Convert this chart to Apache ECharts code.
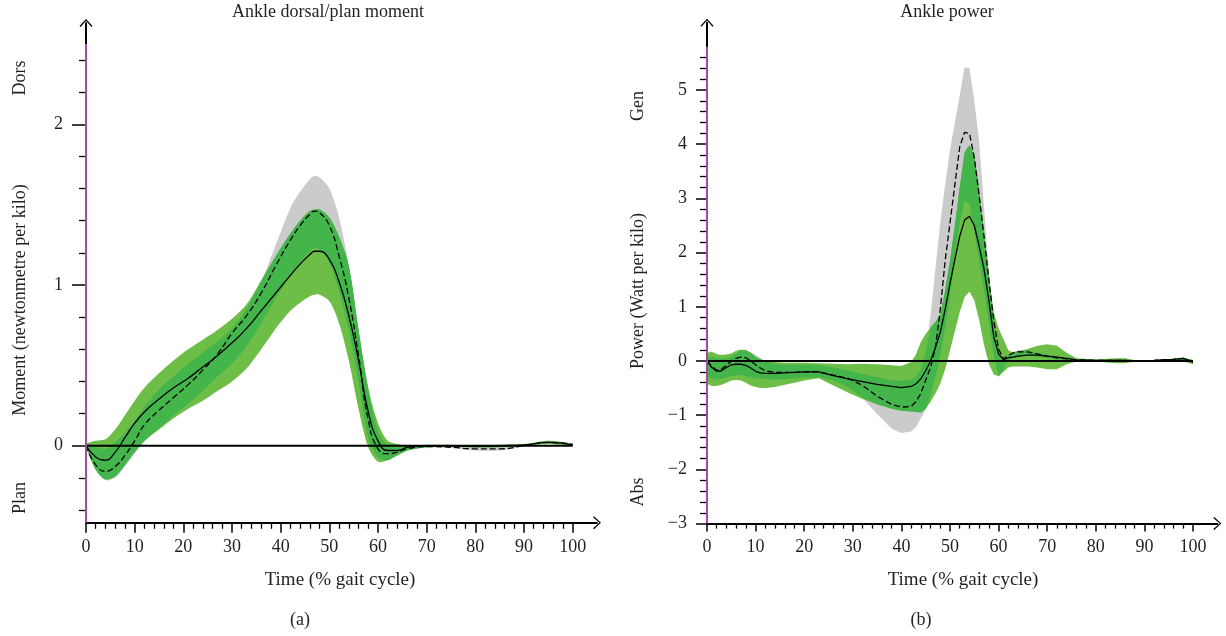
<!DOCTYPE html>
<html>
<head>
<meta charset="utf-8">
<script src="https://cdn.jsdelivr.net/npm/echarts@6/dist/echarts.min.js"></script>
<style>html,body{margin:0;padding:0;background:#fff}#c{width:1226px;height:636px}</style>
</head>
<body>
<div id="c"></div>
<script>
// ---------- (a) Ankle dorsal/plan moment ----------
const momentTime   = [0,2,4,6,8,10,12,15,18,21,24,27,30,33,36,39,42,44,46,47,48,50,52,54,56,58,60,62,64,66,70,75,80,85,90,95,100];
const momentSolid  = [0,-0.07,-0.09,-0.04,0.05,0.14,0.21,0.29,0.36,0.42,0.49,0.56,0.64,0.73,0.84,0.95,1.06,1.13,1.19,1.21,1.21,1.16,1.02,0.81,0.53,0.21,0.03,-0.03,-0.03,-0.01,0,0,-0.005,0,0.005,0.02,0.005];
const momentDashed = [0,-0.12,-0.16,-0.13,-0.06,0.03,0.13,0.22,0.30,0.38,0.47,0.57,0.70,0.81,0.95,1.12,1.28,1.37,1.44,1.46,1.45,1.37,1.18,0.92,0.56,0.16,-0.02,-0.05,-0.04,-0.02,-0.005,-0.01,-0.02,-0.02,0,0.02,0.01];
const momentGreyHi = [0,-0.01,-0.02,0.02,0.08,0.15,0.24,0.35,0.43,0.51,0.58,0.65,0.73,0.85,1.02,1.25,1.48,1.58,1.66,1.68,1.67,1.60,1.42,1.12,0.72,0.35,0.09,0,-0.01,-0.01,0,0,-0.005,-0.005,0.005,0.025,0.01];
const momentGreyLo = [0,-0.15,-0.215,-0.20,-0.13,-0.05,0.025,0.11,0.19,0.26,0.34,0.43,0.51,0.62,0.76,0.92,1.06,1.14,1.21,1.23,1.22,1.14,0.96,0.72,0.40,0.05,-0.07,-0.09,-0.06,-0.03,-0.01,-0.015,-0.03,-0.03,-0.005,0.015,0.01];
const momentGreenHi = [0.01,0.03,0.04,0.10,0.19,0.28,0.36,0.45,0.53,0.60,0.66,0.72,0.79,0.88,1.03,1.18,1.32,1.40,1.46,1.47,1.47,1.42,1.30,1.12,0.72,0.36,0.14,0.03,0.01,0,0.005,0.005,0,0.005,0.01,0.03,0.01];
const momentGreenLo = [-0.01,-0.15,-0.21,-0.19,-0.12,-0.04,0.03,0.10,0.17,0.23,0.28,0.34,0.40,0.48,0.60,0.73,0.84,0.89,0.93,0.94,0.94,0.90,0.76,0.53,0.23,-0.01,-0.10,-0.09,-0.06,-0.03,-0.01,-0.005,-0.01,-0.01,0,0.01,0];
const momentYMajor = [0,1,2];
const momentYMinor = [-0.4,-0.2,0.2,0.4,0.6,0.8,1.2,1.4,1.6,1.8,2.2,2.4];

// ---------- (b) Ankle power ----------
const powerTime   = [0,1,2,3,4,5,6,7,8,9,10,11,12,14,16,18,20,23,26,29,32,35,38,40,42,43,44,45,46,47,48,49,50,51,52,53,54,55,56,57,58,59,60,61,62,63,64,66,68,70,72,74,76,80,84,86,88,92,96,98,100];
const powerSolid  = [0,-0.12,-0.19,-0.18,-0.12,-0.07,-0.06,-0.06,-0.08,-0.13,-0.19,-0.22,-0.23,-0.23,-0.22,-0.21,-0.20,-0.20,-0.27,-0.33,-0.38,-0.43,-0.47,-0.49,-0.47,-0.42,-0.33,-0.18,0,0.25,0.53,0.95,1.43,1.87,2.30,2.60,2.67,2.50,2.12,1.70,1.12,0.45,0.13,0.02,0.06,0.07,0.09,0.11,0.11,0.09,0.07,0.05,0.02,0.01,0.01,0.01,0,0.01,0.03,0.05,-0.02];
const powerDashed = [0,-0.10,-0.17,-0.15,-0.08,0,0.05,0.07,0.06,0,-0.07,-0.13,-0.18,-0.21,-0.21,-0.21,-0.20,-0.20,-0.26,-0.32,-0.45,-0.65,-0.80,-0.85,-0.84,-0.75,-0.60,-0.35,-0.12,0.25,0.95,1.85,2.55,3.25,3.95,4.22,4.20,3.75,3.05,2.30,1.50,0.75,0.22,0.04,0.10,0.15,0.17,0.17,0.13,0.09,0.06,0.04,0.02,0.01,0.01,0.01,0,0.01,0.03,0.05,-0.02];
const powerGreyHi = [0.05,0.08,0.05,0.04,0.05,0.08,0.14,0.20,0.20,0.16,0.11,0.06,0,-0.06,-0.07,-0.07,-0.07,-0.08,-0.12,-0.17,-0.24,-0.30,-0.36,-0.37,-0.34,-0.30,-0.15,0.15,0.85,1.70,2.55,3.25,3.90,4.40,4.90,5.42,5.40,4.80,4.05,2.85,1.65,0.75,0.15,0.05,0.10,0.17,0.20,0.20,0.15,0.12,0.08,0.05,0.03,0.02,0.02,0.02,0.02,0.02,0.04,0.06,0.02];
const powerGreyLo = [-0.30,-0.32,-0.34,-0.33,-0.30,-0.28,-0.26,-0.26,-0.28,-0.30,-0.32,-0.33,-0.33,-0.34,-0.33,-0.32,-0.31,-0.30,-0.36,-0.48,-0.68,-0.98,-1.25,-1.33,-1.30,-1.22,-1.05,-0.90,-0.65,-0.30,0.10,0.60,1.20,1.95,2.55,2.95,2.90,2.40,1.85,1.30,0.70,0.10,-0.30,-0.15,0.02,0.05,0.08,0.10,0.08,0.05,0.03,0.02,0.01,0,0,0,0,0,0.01,0.02,-0.02];
const powerGreenHi = [0.15,0.17,0.13,0.11,0.12,0.14,0.19,0.21,0.20,0.15,0.08,0.03,0,-0.02,-0.03,-0.03,-0.03,-0.04,-0.05,-0.06,-0.05,-0.06,-0.08,-0.09,-0.02,0.12,0.35,0.50,0.62,0.72,0.85,1.30,1.85,2.50,3.20,3.85,3.98,3.80,3.15,2.35,1.55,0.90,0.60,0.40,0.20,0.15,0.18,0.22,0.28,0.31,0.28,0.15,0.05,0.03,0.05,0.05,0.02,0.02,0.04,0.06,0.02];
const powerGreenLo = [-0.42,-0.46,-0.46,-0.44,-0.40,-0.36,-0.35,-0.36,-0.40,-0.45,-0.48,-0.50,-0.50,-0.48,-0.44,-0.40,-0.36,-0.32,-0.45,-0.58,-0.70,-0.80,-0.88,-0.92,-0.93,-0.94,-0.95,-0.88,-0.75,-0.60,-0.42,-0.15,0.20,0.55,0.90,1.18,1.28,1.12,0.75,0.30,-0.05,-0.25,-0.28,-0.20,-0.12,-0.10,-0.10,-0.10,-0.12,-0.15,-0.15,-0.06,-0.01,-0.01,-0.04,-0.04,-0.01,0,0,-0.01,-0.06];
const powerYMajor = [-3,-2,-1,0,1,2,3,4,5];
const powerYMinor = [-2.8,-2.6,-2.4,-2.2,-1.8,-1.6,-1.4,-1.2,-0.8,-0.6,-0.4,-0.2,0.2,0.4,0.6,0.8,1.2,1.4,1.6,1.8,2.2,2.4,2.6,2.8,3.2,3.4,3.6,3.8,4.2,4.4,4.6,4.8,5.2,5.4,5.6];

// ---------- shared ----------
const timeMajor = [0,10,20,30,40,50,60,70,80,90,100];
const timeMinor = [2,4,6,8,12,14,16,18,22,24,26,28,32,34,36,38,42,44,46,48,52,54,56,58,62,64,66,68,72,74,76,78,82,84,86,88,92,94,96,98];

const FONT = 'Liberation Serif';
const TXT = '#231f20';
const GREY = '#cbcbcb', LIGHT = '#6dbe46', DARK = '#43b54a', PURPLE = '#a04ca6';
const ARROW = 'path://M0,7 L6.5,0 L13,7 L12,8 L6.5,1.6 L1,8 Z';

function zip(t, v) { return t.map((x, i) => [x, v[i]]); }

// Filled band between lo and hi, drawn as one polygon through the axes' scales.
function band(xi, yi, t, lo, hi, color, smooth) {
  return {
    type: 'custom', xAxisIndex: xi, yAxisIndex: yi, data: [[t[0], lo[0]]], silent: true, z: 2, clip: false,
    renderItem: function (params, api) {
      const pts = [];
      for (let i = 0; i < t.length; i++) pts.push(api.coord([t[i], hi[i]]));
      for (let i = t.length - 1; i >= 0; i--) pts.push(api.coord([t[i], lo[i]]));
      return { type: 'polygon', shape: { points: pts, smooth: smooth }, style: { fill: color, stroke: null } };
    }
  };
}
function overlap(gLo, gHi, sLo, sHi) {
  const lo = gLo.map((v, i) => Math.max(v, sLo[i]));
  const hi = gHi.map((v, i) => Math.min(v, sHi[i]));
  return { lo: lo, hi: hi.map((h, i) => Math.max(h, lo[i])) };
}
function meanLine(xi, yi, t, v, dashed, smooth) {
  return { type: 'line', xAxisIndex: xi, yAxisIndex: yi, data: zip(t, v), symbol: 'none', smooth: smooth,
    lineStyle: { color: '#000', width: 1.3, type: dashed ? [6, 3] : 'solid' }, silent: true, z: 4 };
}
function plainLine(xi, yi, data, color, width) {
  return { type: 'line', xAxisIndex: xi, yAxisIndex: yi, data: data, symbol: 'none', clip: false,
    lineStyle: { color: color, width: width }, silent: true, z: 5 };
}
function xAxes(gi, majorLen, minorLen) {
  return [
    { type: 'value', gridIndex: gi, min: 0, max: 105, position: 'bottom',
      axisLine: { show: true, onZero: false, symbol: ['none', ARROW], symbolSize: [13, 8], lineStyle: { color: '#000', width: 2 } },
      axisTick: { show: true, customValues: timeMajor, length: majorLen, lineStyle: { color: '#000', width: 1.5 } },
      axisLabel: { show: true, customValues: timeMajor, margin: 15, fontSize: 18, fontFamily: FONT, color: TXT },
      splitLine: { show: false } },
    { type: 'value', gridIndex: gi, min: 0, max: 105, position: 'bottom',
      axisLine: { show: false, onZero: false },
      axisTick: { show: true, customValues: timeMinor, length: minorLen, lineStyle: { color: '#000', width: 1.3 } },
      axisLabel: { show: false }, splitLine: { show: false } }
  ];
}
function yAxes(gi, min, max, major, minor, majorLen, minorLen, margin) {
  return [
    { type: 'value', gridIndex: gi, min: min, max: max, position: 'left',
      axisLine: { show: true, onZero: false, symbol: ['none', ARROW], symbolSize: [13, 8], lineStyle: { color: '#000', width: 2 } },
      axisTick: { show: true, customValues: major, length: majorLen, lineStyle: { color: '#000', width: 1.5 } },
      axisLabel: { show: true, customValues: major, margin: margin, fontSize: 18, fontFamily: FONT, color: TXT,
        formatter: v => String(v).replace('-', '\u2212') },
      splitLine: { show: false } },
    { type: 'value', gridIndex: gi, min: min, max: max, position: 'left',
      axisLine: { show: false, onZero: false },
      axisTick: { show: true, customValues: minor, length: minorLen, lineStyle: { color: '#000', width: 1.3 } },
      axisLabel: { show: false }, splitLine: { show: false } }
  ];
}
function text(x, y, s, rot, size) {
  return { type: 'text', x: x, y: y, rotation: rot ? Math.PI / 2 : 0, silent: true,
    style: { text: s, fontSize: size || 18, fontFamily: FONT, fill: TXT, align: 'center', verticalAlign: 'middle' } };
}

const mOv = overlap(momentGreyLo, momentGreyHi, momentGreenLo, momentGreenHi);
const pOv = overlap(powerGreyLo, powerGreyHi, powerGreenLo, powerGreenHi);

const series = [
  band(0, 0, momentTime, momentGreyLo, momentGreyHi, GREY, 0.3),
  band(0, 0, momentTime, momentGreenLo, momentGreenHi, LIGHT, 0.3),
  band(0, 0, momentTime, mOv.lo, mOv.hi, DARK, 0.3),
  plainLine(0, 0, [[0, 0], [100, 0]], '#000', 2),
  meanLine(0, 0, momentTime, momentDashed, true, true),
  meanLine(0, 0, momentTime, momentSolid, false, true),
  plainLine(0, 0, [[0, -0.48], [0, 2.5]], PURPLE, 2),
  band(2, 2, powerTime, powerGreyLo, powerGreyHi, GREY, 0),
  band(2, 2, powerTime, powerGreenLo, powerGreenHi, LIGHT, 0),
  band(2, 2, powerTime, pOv.lo, pOv.hi, DARK, 0),
  plainLine(2, 2, [[0, 0], [100, 0]], '#000', 2),
  meanLine(2, 2, powerTime, powerDashed, true, false),
  meanLine(2, 2, powerTime, powerSolid, false, false),
  plainLine(2, 2, [[0, -3], [0, 5.8]], PURPLE, 2)
];

const chart = echarts.init(document.getElementById('c'), null, { renderer: 'canvas' });
chart.setOption({
  backgroundColor: '#fff',
  animation: false,
  grid: [
    { left: 86, top: 23.1, width: 511, height: 499.7, containLabel: false, outerBoundsMode: 'none' },
    { left: 707, top: 22.8, width: 510.3, height: 500.8, containLabel: false, outerBoundsMode: 'none' }
  ],
  xAxis: [].concat(xAxes(0, 10, 6), xAxes(1, 8, 5)),
  yAxis: [].concat(
    yAxes(0, -0.48, 2.63, momentYMajor, momentYMinor, 14, 7, 23),
    yAxes(1, -3, 6.24, powerYMajor, powerYMinor, 11, 7, 20)
  ),
  series: series,
  graphic: [
    text(328, 12, 'Ankle dorsal/plan moment'),
    text(947, 12, 'Ankle power'),
    text(20, 78, 'Dors', true),
    text(20, 300, 'Moment (newtonmetre per kilo)', true),
    text(20, 498, 'Plan', true),
    text(638, 106, 'Gen', true),
    text(638, 291, 'Power (Watt per kilo)', true),
    text(638, 492, 'Abs', true),
    text(340, 580, 'Time (% gait cycle)', false, 19),
    text(963, 580, 'Time (% gait cycle)', false, 19),
    text(300, 620, '(a)'),
    text(921, 620, '(b)')
  ]
});
</script>
</body>
</html>
